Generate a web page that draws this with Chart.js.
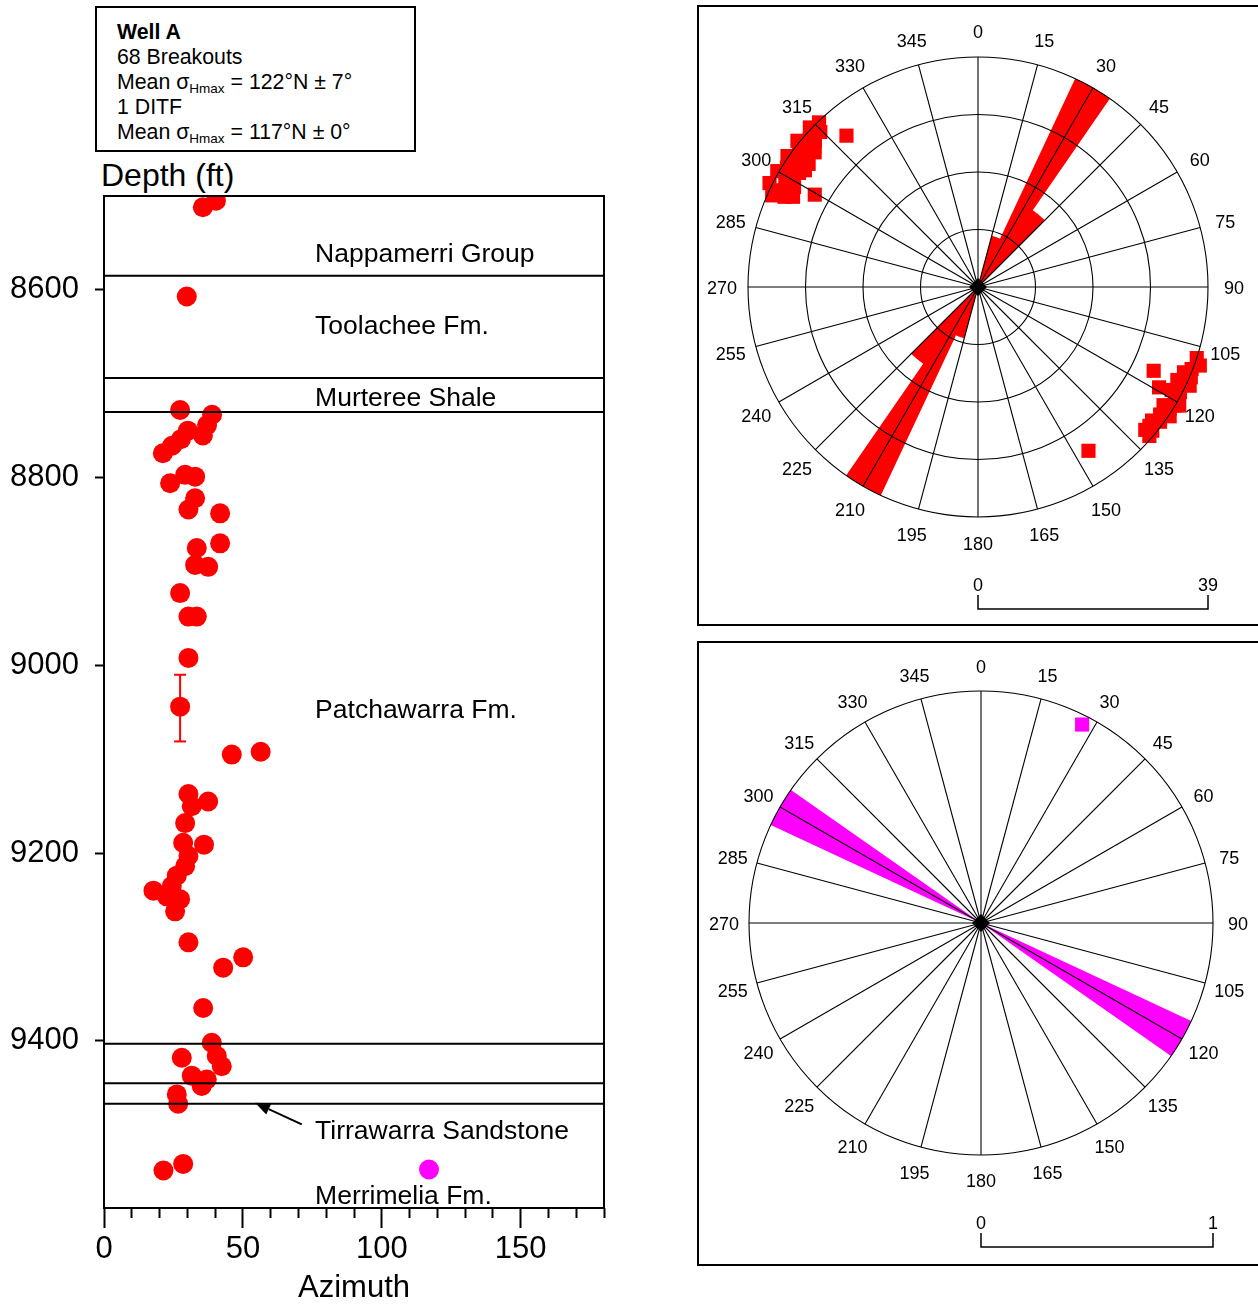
<!DOCTYPE html>
<html lang="en">
<head>
<meta charset="utf-8">
<title>Well A – breakouts and DITF</title>
<script src="https://cdn.jsdelivr.net/npm/chart.js@4.4.1/dist/chart.umd.min.js"></script>
<style>
  html, body { margin: 0; padding: 0; background: #fff; }
  body { position: relative; width: 1258px; height: 1304px; overflow: hidden;
         font-family: "Liberation Sans", Arial, sans-serif; color: #000; }
  #summary { position: absolute; left: 95px; top: 6px; width: 321px; height: 146px;
             box-sizing: border-box; border: 2px solid #000; padding: 11.5px 0 0 20px;
             font-size: 21.3px; line-height: 25.2px; white-space: nowrap; }
  #summary .sub { font-size: 13.5px; line-height: 0; position: relative; top: 4px; }
  #depthTitle { position: absolute; left: 101px; top: 160px; font-size: 32px; line-height: 30px; white-space: nowrap; }
  canvas { position: absolute; }
  #wellLog { left: 0; top: 156px; }
  .frame { position: absolute; left: 697px; width: 640px; box-sizing: border-box; border: 2px solid #000; }
  #frameTop { top: 5px; height: 621px; }
  #frameBottom { top: 641px; height: 625px; }
  #roseBreakouts { left: 699px; top: 8px; }
  #roseDitf { left: 700px; top: 644px; }
</style>
</head>
<body>
<div id="summary">
  <div><b>Well A</b></div>
  <div>68 Breakouts</div>
  <div>Mean σ<span class="sub">Hmax</span> = 122°N ± 7°</div>
  <div>1 DITF</div>
  <div>Mean σ<span class="sub">Hmax</span> = 117°N ± 0°</div>
</div>
<div id="depthTitle">Depth (ft)</div>
<canvas id="wellLog" width="650" height="1148"></canvas>
<div class="frame" id="frameTop"></div>
<div class="frame" id="frameBottom"></div>
<canvas id="roseBreakouts" width="550" height="616"></canvas>
<canvas id="roseDitf" width="554" height="620"></canvas>
<script>
// ---------- depth log: breakouts and drilling-induced tensile fractures ----------
const breakoutAzimuth = [
  35.6, 40.3, 29.8, 27.4, 38.9, 37.1, 30.2, 35.6, 27.7, 24.5, 21.2,
  29.2, 32.8, 23.8, 32.8, 30.4, 41.8, 41.8, 33.4, 32.8, 37.5, 27.4,
  30.4, 33.4, 30.4, 27.4, 56.4, 46.0, 30.4, 37.5, 31.6, 29.2, 28.5,
  36.0, 30.4, 29.2, 26.2, 24.4, 17.8, 22.6, 27.4, 25.6, 30.4, 50.1,
  42.9, 35.7, 38.8, 28.0, 40.6, 42.4, 31.6, 37.0, 35.2, 26.2, 26.7,
  28.5, 21.4
];
const breakoutDepth = [
  8512, 8505, 8607, 8728, 8733, 8744, 8750, 8755, 8759, 8766, 8774,
  8797, 8799, 8806, 8822, 8834, 8838, 8870, 8875, 8893, 8895, 8923,
  8948, 8948, 8992, 9044, 9092, 9095, 9137, 9145, 9150, 9168, 9189,
  9191, 9203, 9214, 9224, 9235, 9240, 9246, 9249, 9262, 9295, 9311,
  9322, 9365, 9402, 9418, 9416, 9427, 9437, 9441, 9448, 9457, 9467,
  9531, 9538
];
const ditfAzimuth = [117];
const ditfDepth = [9537];

// depth range of the one breakout with a plotted spread
const spreadAzimuth = [27.4];
const spreadTop = [9010];
const spreadBase = [9081];

const formationNames = ['Nappamerri Group', 'Toolachee Fm.', 'Murteree Shale',
                        'Patchawarra Fm.', 'Tirrawarra Sandstone', 'Merrimelia Fm.'];
const formationBoundaries = [8585, 8694, 8730, 9403, 9445, 9467];

const depthAxisTicks = [8600, 8800, 9000, 9200, 9400];
const azimuthAxisTicks = [0, 50, 100, 150];

// ---------- rose diagrams ----------
const roseAngleLabels = ['0', '15', '30', '45', '60', '75', '90', '105', '120', '135', '150', '165',
                         '180', '195', '210', '225', '240', '255', '270', '285', '300', '315', '330', '345'];

const breakoutBinStart = [15, 25, 35, 195, 205, 215];
const breakoutBinEnd   = [25, 35, 45, 205, 215, 225];
const breakoutBinCount = [9, 39, 16, 9, 39, 16];
const breakoutRoseMax = 39;
const breakoutMarkAngle = [
  316, 313.5, 312, 311, 309, 309.5, 307, 305.5, 304.5, 304, 302, 300.5, 300, 298,
  296.5, 296, 296, 294, 299.5, 319, 302.5, 306, 308, 298.5, 295, 310.5, 314.5,
  108, 109.5, 111, 114, 115, 115, 117.5, 120, 120.5, 122.5, 122.5, 124.5, 125,
  126.5, 129, 129.5, 131, 119, 115.5, 146, 112.5, 118, 121, 127.5, 130.5, 113, 124
];
const breakoutMarkRadius = [
  38.8, 39.3, 37.2, 37.9, 39.4, 35.9, 37.5, 37.1, 39.2, 35.4, 38.2, 37.1, 39.3, 37.0,
  39.5, 37.4, 34.9, 38.2, 31.8, 34.0, 36.0, 35.5, 38.5, 35.5, 36.2, 36.5, 37.5,
  39.0, 39.9, 38.8, 38.6, 39.6, 37.3, 38.6, 38.5, 39.6, 38.5, 37.3, 38.4, 37.7,
  38.4, 37.4, 38.3, 38.5, 35.1, 33.0, 33.5, 37.8, 37.2, 39.0, 37.2, 37.3, 39.2, 39.2
];

const ditfBinStart = [115, 295];
const ditfBinEnd   = [125, 305];
const ditfBinCount = [1, 1];
const ditfRoseMax = 1;
const ditfMarkAngle = [27];
const ditfMarkRadius = [0.96];

Chart.defaults.font.family = '"Liberation Sans", Arial, sans-serif';
Chart.defaults.color = '#000';

// ---------- well log chart ----------
const frameBorder = {
  id: 'frameBorder',
  afterDatasetsDraw(chart) {
    const { ctx, chartArea: a } = chart;
    ctx.save();
    ctx.strokeStyle = '#000';
    ctx.lineWidth = 2;
    ctx.strokeRect(a.left, a.top, a.right - a.left, a.bottom - a.top);
    ctx.restore();
  }
};

const formationLabels = {
  id: 'formationLabels',
  afterDatasetsDraw(chart, args, opts) {
    const { ctx, scales: { x, y } } = chart;
    ctx.save();
    ctx.font = opts.font;
    ctx.fillStyle = '#000';
    ctx.textAlign = 'left';
    ctx.textBaseline = 'middle';
    formationNames.forEach((name, i) => {
      ctx.fillText(name, x.getPixelForValue(opts.azimuth), y.getPixelForValue(opts.depths[i]));
    });
    // pointer from the Tirrawarra label up to its contact
    const p = opts.pointer;
    const x0 = x.getPixelForValue(p.from[0]), y0 = y.getPixelForValue(p.from[1]);
    const x1 = x.getPixelForValue(p.to[0]),   y1 = y.getPixelForValue(p.to[1]);
    const ang = Math.atan2(y1 - y0, x1 - x0);
    const head = 15, half = 6;
    const bx = x1 - head * Math.cos(ang), by = y1 - head * Math.sin(ang);
    ctx.strokeStyle = '#000';
    ctx.lineWidth = 2;
    ctx.beginPath();
    ctx.moveTo(x0, y0);
    ctx.lineTo(bx, by);
    ctx.stroke();
    ctx.beginPath();
    ctx.moveTo(x1, y1);
    ctx.lineTo(bx + half * Math.sin(ang), by - half * Math.cos(ang));
    ctx.lineTo(bx - half * Math.sin(ang), by + half * Math.cos(ang));
    ctx.closePath();
    ctx.fillStyle = '#000';
    ctx.fill();
    ctx.restore();
  }
};

const boundaryDatasets = formationBoundaries.map(d => ({
  data: [{ x: 0, y: d }, { x: 180, y: d }],
  showLine: true, borderColor: '#000', borderWidth: 2,
  pointRadius: 0, order: 0, clip: 0
}));

new Chart(document.getElementById('wellLog'), {
  type: 'scatter',
  data: {
    datasets: [
      ...boundaryDatasets,
      {
        data: spreadAzimuth.flatMap((a, i) => [{ x: a, y: spreadTop[i] }, { x: a, y: spreadBase[i] }]),
        showLine: true, borderColor: '#ff0000', borderWidth: 2,
        pointStyle: 'line', pointRadius: 6, pointBorderColor: '#ff0000', pointBorderWidth: 2,
        order: 1, clip: 0
      },
      {
        data: breakoutAzimuth.map((a, i) => ({ x: a, y: breakoutDepth[i] })),
        pointRadius: 10, pointBackgroundColor: '#ff0000', pointBorderWidth: 0,
        order: 2, clip: 0
      },
      {
        data: ditfAzimuth.map((a, i) => ({ x: a, y: ditfDepth[i] })),
        pointRadius: 10, pointBackgroundColor: '#ff00ff', pointBorderWidth: 0,
        order: 2, clip: 0
      }
    ]
  },
  options: {
    responsive: false, animation: false, events: [],
    layout: { padding: { top: 40, right: 46, bottom: 0, left: 0 } },
    plugins: {
      legend: { display: false },
      tooltip: { enabled: false },
      formationLabels: {
        azimuth: 76,
        depths: [8563, 8639, 8716, 9048, 9497, 9566],
        font: '26.5px "Liberation Sans", Arial, sans-serif',
        pointer: { from: [71.2, 9489], to: [54.4, 9466] }
      }
    },
    scales: {
      x: {
        type: 'linear', position: 'bottom', min: 0, max: 180,
        border: { display: false },
        grid: {
          drawOnChartArea: false, drawTicks: true, tickLength: 20, tickWidth: 2, tickColor: '#000',
          tickBorderDash: (c) => (c.tick && azimuthAxisTicks.includes(c.tick.value)) ? [] : [10, 40]
        },
        ticks: {
          stepSize: 10, autoSkip: false, maxRotation: 0, minRotation: 0, padding: 3,
          font: { size: 31 }, color: '#000',
          callback: (v) => azimuthAxisTicks.includes(v) ? String(v) : ''
        },
        title: { display: true, text: 'Azimuth', font: { size: 31, lineHeight: 1 },
                 padding: { top: 0, bottom: 0 }, color: '#000' },
        afterFit: (s) => { s.height = 96; }
      },
      y: {
        type: 'linear', position: 'left', reverse: true, min: 8500, max: 9578,
        border: { display: false },
        grid: { drawOnChartArea: false, tickLength: 9, tickWidth: 2, tickColor: '#000' },
        afterBuildTicks: (s) => { s.ticks = depthAxisTicks.map(v => ({ value: v })); },
        ticks: { autoSkip: false, padding: 16, font: { size: 31 }, color: '#000',
                 callback: (v) => String(v) },
        afterFit: (s) => { s.width = 104; }
      }
    }
  },
  plugins: [frameBorder, formationLabels]
});

// ---------- rose diagrams (radar charts on a 0.5° angular grid) ----------
const STEP = 0.5;
const N = Math.round(360 / STEP);
const LABEL_EVERY = Math.round(15 / STEP);
const roseLabels = Array.from({ length: N }, (_, i) =>
  i % LABEL_EVERY === 0 ? roseAngleLabels[i / LABEL_EVERY] : '');

function binSeries(starts, ends, counts) {
  return Array.from({ length: N }, (_, i) => {
    const a = i * STEP;
    let v = 0;
    starts.forEach((s, k) => { if (a >= s && a <= ends[k]) v = Math.max(v, counts[k]); });
    return v;
  });
}

function markLayers(angles, radii) {
  const layers = [];
  angles.forEach((a, k) => {
    const idx = Math.round(a / STEP) % N;
    let layer = layers.find(l => l[idx] === null);
    if (!layer) { layer = new Array(N).fill(null); layers.push(layer); }
    layer[idx] = radii[k];
  });
  return layers;
}

function roseDatasets(binStart, binEnd, binCount, markAngle, markRadius, colour) {
  const centre = new Array(N).fill(null);
  centre[0] = 0;
  const sets = [{
    data: centre, showLine: false, fill: false, clip: false,
    pointStyle: 'rectRot', pointRadius: 9, pointBackgroundColor: '#000', pointBorderWidth: 0
  }];
  markLayers(markAngle, markRadius).forEach(layer => sets.push({
    data: layer, showLine: false, fill: false, clip: false,
    pointStyle: 'rect', pointRadius: 10, pointBackgroundColor: colour, pointBorderWidth: 0
  }));
  sets.push({
    data: binSeries(binStart, binEnd, binCount),
    fill: 'shape', backgroundColor: colour, clip: false,
    borderColor: 'rgba(0,0,0,0)', borderWidth: 0, pointRadius: 0
  });
  return sets;
}

// compass labels centred on a ring just outside the outer circle
const angleLabels = {
  id: 'angleLabels',
  afterDraw(chart, args, opts) {
    const s = chart.scales.r;
    const ctx = chart.ctx;
    ctx.save();
    ctx.fillStyle = '#000';
    ctx.font = '18px "Liberation Sans", Arial, sans-serif';
    ctx.textAlign = 'center';
    ctx.textBaseline = 'middle';
    chart.data.labels.forEach((label, i) => {
      if (!label) return;
      const p = s.getPointPosition(i, s.drawingArea + opts.gap);
      ctx.fillText(label, p.x, p.y + opts.dy);
    });
    ctx.restore();
  }
};

const scaleBar = {
  id: 'scaleBar',
  afterDraw(chart) {
    const s = chart.scales.r;
    const ctx = chart.ctx;
    const x0 = s.xCenter, x1 = s.xCenter + s.drawingArea;
    const base = s.yCenter + s.drawingArea;
    ctx.save();
    ctx.fillStyle = '#000';
    ctx.strokeStyle = '#000';
    ctx.lineWidth = 1.5;
    ctx.font = '18px "Liberation Sans", Arial, sans-serif';
    ctx.textAlign = 'center';
    ctx.textBaseline = 'middle';
    ctx.fillText(String(s.min), x0, base + 69);
    ctx.fillText(String(s.max), x1, base + 69);
    ctx.beginPath();
    ctx.moveTo(x0, base + 78);
    ctx.lineTo(x0, base + 92);
    ctx.lineTo(x1, base + 92);
    ctx.lineTo(x1, base + 78);
    ctx.stroke();
    ctx.restore();
  }
};

function roseChart(id, datasets, maxValue, rings, padding, gap, dy) {
  return new Chart(document.getElementById(id), {
    type: 'radar',
    data: { labels: roseLabels, datasets },
    options: {
      responsive: false, animation: false, events: [],
      layout: { padding },
      plugins: { legend: { display: false }, tooltip: { enabled: false }, angleLabels: { gap, dy } },
      elements: { line: { tension: 0 } },
      scales: {
        r: {
          min: 0, max: maxValue, startAngle: 0,
          ticks: { display: false, count: rings + 1, z: 1 },
          grid: { circular: true, color: '#000', lineWidth: 1.1, z: 1 },
          angleLines: { display: true, color: '#000',
                        lineWidth: (c) => c.index % LABEL_EVERY === 0 ? 1.1 : 0 },
          pointLabels: { display: false }
        }
      }
    },
    plugins: [angleLabels, scaleBar]
  });
}

roseChart('roseBreakouts',
  roseDatasets(breakoutBinStart, breakoutBinEnd, breakoutBinCount,
               breakoutMarkAngle, breakoutMarkRadius, '#ff0000'),
  breakoutRoseMax, 4, { left: 49, right: 41, top: 49, bottom: 107 }, 26, 2);

roseChart('roseDitf',
  roseDatasets(ditfBinStart, ditfBinEnd, ditfBinCount,
               ditfMarkAngle, ditfMarkRadius, '#ff00ff'),
  ditfRoseMax, 1, { left: 49, right: 41, top: 47, bottom: 109 }, 25, 2.5);
</script>
</body>
</html>
